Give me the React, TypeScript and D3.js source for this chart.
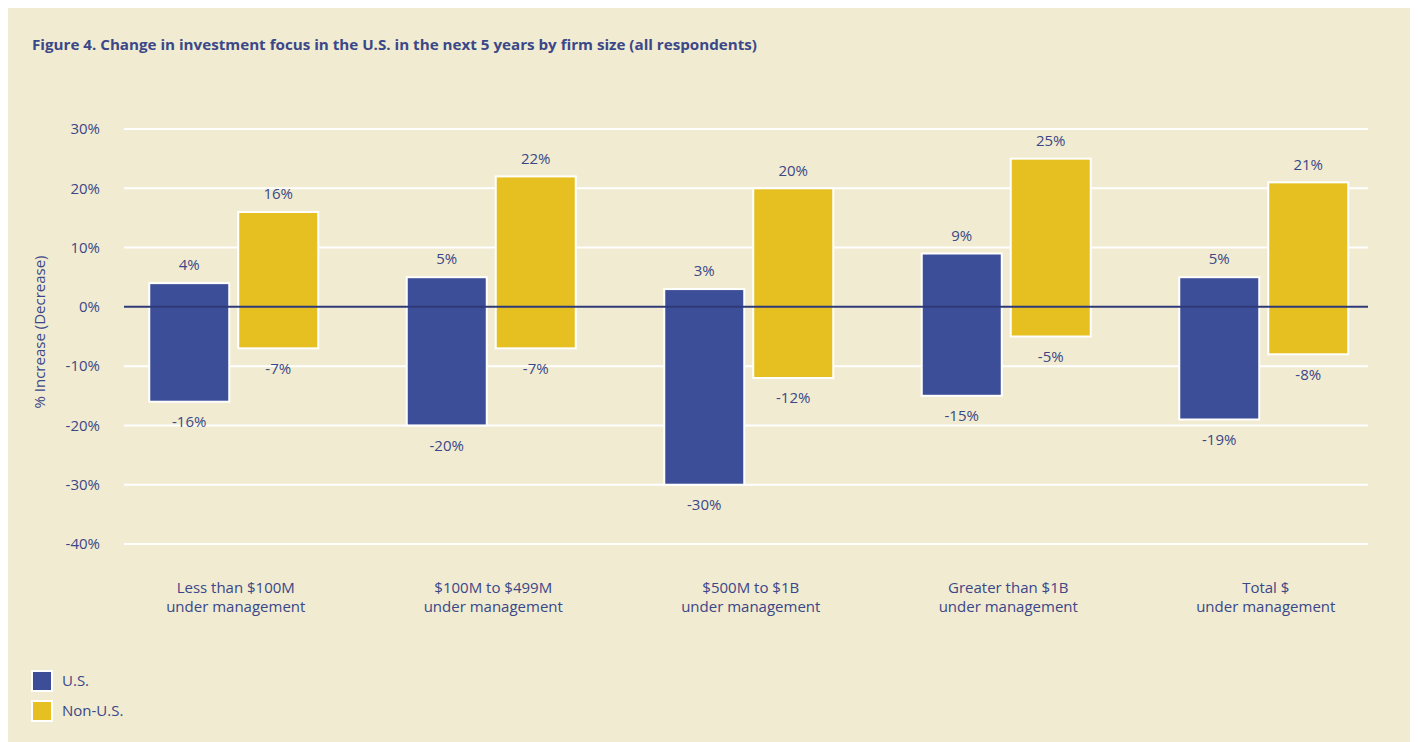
import React, { useEffect } from "react";
import * as d3 from "d3";

const categories = [
  ["Less than $100M", "under management"],
  ["$100M to $499M", "under management"],
  ["$500M to $1B", "under management"],
  ["Greater than $1B", "under management"],
  ["Total $", "under management"],
];
const seriesNames = ["U.S.", "Non-U.S."];
const usHigh = [4, 5, 3, 9, 5];
const usLow = [-16, -20, -30, -15, -19];
const nonUsHigh = [16, 22, 20, 25, 21];
const nonUsLow = [-7, -7, -12, -5, -8];
const yTicks = [30, 20, 10, 0, -10, -20, -30, -40];
const title =
  "Figure 4. Change in investment focus in the U.S. in the next 5 years by firm size (all respondents)";
const yTitle = "% Increase (Decrease)";

const BG = "#F1EBD1";
const BLUE = "#3C4E97";
const YELLOW = "#E5C020";
const TEXT = "#3A4788";
const ZERO = "#2E3A78";
const FONT = "'Open Sans', 'Noto Sans', sans-serif";
const FS = 15;

export default function App() {
  useEffect(() => {
    document.body.style.overflow = "hidden";
  }, []);

  const y = d3.scaleLinear().domain([-40, 30]).range([544, 129]);
  const x = d3
    .scaleBand<number>()
    .domain(d3.range(categories.length))
    .range([105, 1392.5])
    .padding(0);
  const inner = d3
    .scaleBand<number>()
    .domain([0, 1])
    .range([x.bandwidth() / 2 - 84.5, x.bandwidth() / 2 + 84.5])
    .paddingInner(9 / 89)
    .paddingOuter(0);

  const series = [
    { name: seriesNames[0], color: BLUE, high: usHigh, low: usLow },
    { name: seriesNames[1], color: YELLOW, high: nonUsHigh, low: nonUsLow },
  ];
  const fmt = (v: number) => `${v}%`;

  return (
    <svg width={1410} height={734} style={{ display: "block" }}>
      <g transform="translate(-8,-8)">
        <rect x={8} y={8} width={1410} height={734} fill={BG} />
        <text
          x={32}
          y={50}
          fontFamily={FONT}
          fontWeight={700}
          fontSize={13.5}
          fill={TEXT}
          textLength={725}
          lengthAdjust="spacingAndGlyphs"
        >
          {title}
        </text>

        {yTicks.map((t) => (
          <g key={t}>
            {t !== 0 && (
              <line x1={124} x2={1368} y1={y(t)} y2={y(t)} stroke="#fff" strokeWidth={2} />
            )}
            <text
              x={100}
              y={y(t)}
              dy="0.35em"
              textAnchor="end"
              fontFamily={FONT}
              fontSize={FS}
              fill={TEXT}
            >
              {fmt(t)}
            </text>
          </g>
        ))}

        <text
          transform={`translate(45,${332}) rotate(-90)`}
          textAnchor="middle"
          fontFamily={FONT}
          fontSize={FS}
          fill={TEXT}
        >
          {yTitle}
        </text>

        {categories.map((c, i) => (
          <g key={i} transform={`translate(${x(i)},0)`}>
            {series.map((s, j) => {
              const bx = inner(j)!;
              const bw = inner.bandwidth();
              const top = y(s.high[i]);
              const bot = y(s.low[i]);
              return (
                <g key={j}>
                  <rect
                    x={bx}
                    y={top}
                    width={bw}
                    height={bot - top}
                    fill={s.color}
                    stroke="#fff"
                    strokeWidth={2}
                  />
                  <text
                    x={bx + bw / 2}
                    y={top - 18}
                    dy="0.35em"
                    textAnchor="middle"
                    fontFamily={FONT}
                    fontSize={FS}
                    fill={TEXT}
                  >
                    {fmt(s.high[i])}
                  </text>
                  <text
                    x={bx + bw / 2}
                    y={bot + 20}
                    dy="0.35em"
                    textAnchor="middle"
                    fontFamily={FONT}
                    fontSize={FS}
                    fill={TEXT}
                  >
                    {fmt(s.low[i])}
                  </text>
                </g>
              );
            })}
            {c.map((line, k) => (
              <text
                key={k}
                x={x.bandwidth() / 2 + 2}
                y={588 + k * 19}
                dy="0.35em"
                textAnchor="middle"
                fontFamily={FONT}
                fontSize={FS}
                fill={TEXT}
              >
                {line}
              </text>
            ))}
          </g>
        ))}

        <line x1={124} x2={1368} y1={y(0)} y2={y(0)} stroke={ZERO} strokeWidth={2} />

        {series.map((s, j) => (
          <g key={s.name} transform={`translate(32,${671 + j * 30})`}>
            <rect x={0} y={0} width={20} height={20} fill={s.color} stroke="#fff" strokeWidth={2} />
            <text x={30} y={10} dy="0.35em" fontFamily={FONT} fontSize={FS} fill={TEXT}>
              {s.name}
            </text>
          </g>
        ))}
      </g>
    </svg>
  );
}
